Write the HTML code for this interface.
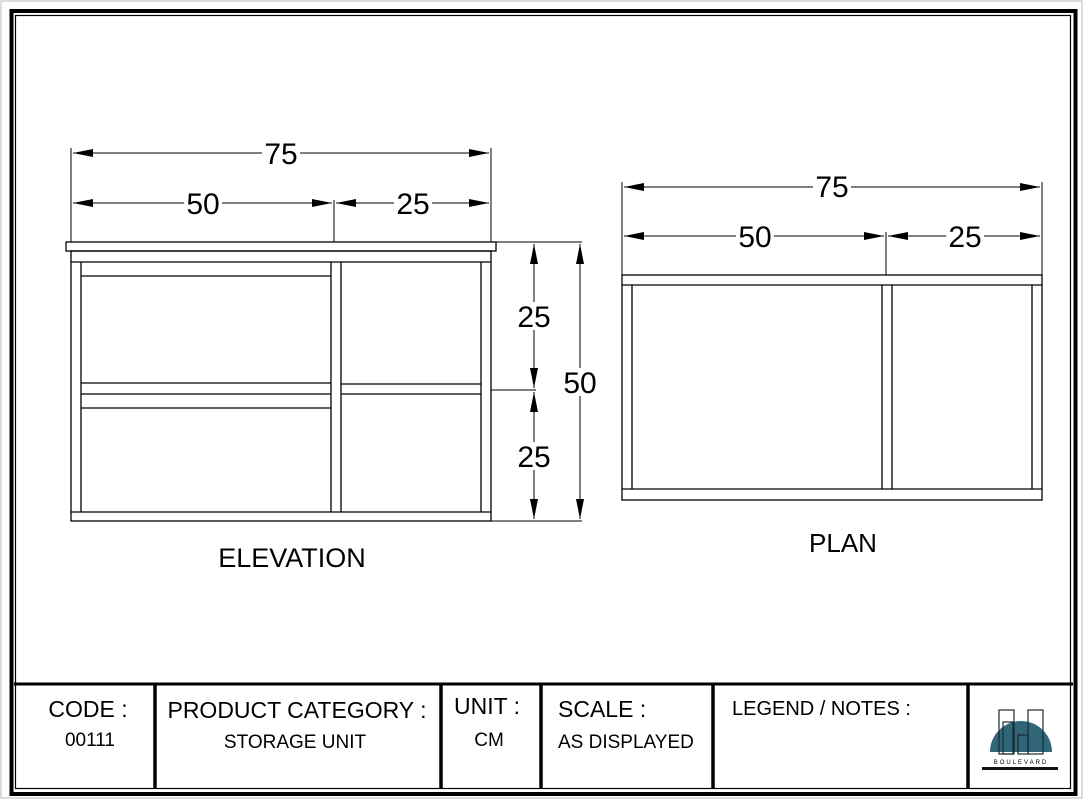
<!DOCTYPE html>
<html><head><meta charset="utf-8"><style>
html,body{margin:0;padding:0;background:#fff;}
svg{display:block;}
text{font-family:"Liberation Sans",Arial,sans-serif;fill:#000;}
</style></head><body>
<svg width="1084" height="800" viewBox="0 0 1084 800" xmlns="http://www.w3.org/2000/svg">
<defs>
<marker id="a" viewBox="0 0 20 8" refX="20" refY="4" markerWidth="20" markerHeight="8" markerUnits="userSpaceOnUse" orient="auto-start-reverse">
<path d="M0,0 L20,4 L0,8 Z" fill="#000"/></marker>
</defs>
<rect width="1084" height="800" fill="#fff"/>
<rect x="1" y="1" width="1081" height="797" fill="none" stroke="#bbb" stroke-width="1"/>
<rect x="11.5" y="11" width="1064" height="783" fill="none" stroke="#000" stroke-width="4"/>
<rect x="15.5" y="15.5" width="1055" height="773" fill="none" stroke="#000" stroke-width="1.2"/>
<line x1="14" y1="684" x2="1073" y2="684" stroke="#000" stroke-width="3"/>
<g stroke="#000" stroke-width="3.5">
<line x1="155" y1="684" x2="155" y2="789"/>
<line x1="441" y1="684" x2="441" y2="789"/>
<line x1="541" y1="684" x2="541" y2="789"/>
<line x1="713" y1="684" x2="713" y2="789"/>
<line x1="968" y1="684" x2="968" y2="789"/>
</g>
<text x="88" y="717" font-size="23" text-anchor="middle">CODE :</text>
<text x="90" y="746" font-size="19" text-anchor="middle">00111</text>
<text x="297" y="718" font-size="23" text-anchor="middle">PRODUCT CATEGORY :</text>
<text x="295" y="748" font-size="19" text-anchor="middle">STORAGE UNIT</text>
<text x="487" y="714" font-size="23" text-anchor="middle">UNIT :</text>
<text x="489" y="746" font-size="19" text-anchor="middle">CM</text>
<text x="558" y="717" font-size="23">SCALE :</text>
<text x="558" y="748" font-size="19">AS DISPLAYED</text>
<text x="732" y="715" font-size="20">LEGEND / NOTES :</text>
<path d="M990,752 A31,31 0 0 1 1052,752 Z" fill="#2f6678"/>
<g fill="none" stroke="#1a2a33" stroke-width="1.2">
<rect x="999" y="710" width="15" height="44"/><rect x="1003" y="722" width="10" height="32"/>
<rect x="1028" y="710" width="15" height="44"/><rect x="1018" y="735" width="10" height="19"/>
</g>
<text x="1021" y="764" font-size="6" text-anchor="middle" letter-spacing="2">BOULEVARD</text>
<rect x="982" y="767" width="76" height="3" fill="#111"/>
<g fill="none" stroke="#000" stroke-width="1.3">
<rect x="66" y="242" width="430" height="9"/>
<rect x="71" y="251" width="420" height="270"/>
<line x1="81" y1="262" x2="81" y2="512"/>
<line x1="481" y1="262" x2="481" y2="512"/>
<line x1="331" y1="262" x2="331" y2="512"/>
<line x1="341" y1="262" x2="341" y2="512"/>
<line x1="71" y1="262" x2="491" y2="262"/>
<line x1="71" y1="512" x2="491" y2="512"/>
<line x1="81" y1="276" x2="331" y2="276"/>
<line x1="81" y1="383" x2="331" y2="383"/>
<line x1="81" y1="394" x2="331" y2="394"/>
<line x1="81" y1="408" x2="331" y2="408"/>
<line x1="341" y1="384" x2="481" y2="384"/>
<line x1="341" y1="394" x2="481" y2="394"/>
</g>
<g stroke="#000" stroke-width="1" fill="none">
<line x1="71" y1="148" x2="71" y2="242"/>
<line x1="491" y1="148" x2="491" y2="242"/>
<line x1="334" y1="200" x2="334" y2="242"/>
<line x1="73" y1="153" x2="489" y2="153" marker-start="url(#a)" marker-end="url(#a)"/>
<line x1="73" y1="203" x2="332" y2="203" marker-start="url(#a)" marker-end="url(#a)"/>
<line x1="336" y1="203" x2="489" y2="203" marker-start="url(#a)" marker-end="url(#a)"/>
<line x1="496" y1="242" x2="582" y2="242"/>
<line x1="491" y1="390" x2="536" y2="390"/>
<line x1="491" y1="521" x2="582" y2="521"/>
<line x1="534" y1="244" x2="534" y2="388" marker-start="url(#a)" marker-end="url(#a)"/>
<line x1="534" y1="392" x2="534" y2="519" marker-start="url(#a)" marker-end="url(#a)"/>
<line x1="580" y1="244" x2="580" y2="519" marker-start="url(#a)" marker-end="url(#a)"/>
</g>
<g font-size="30" text-anchor="middle">
<rect x="262" y="140" width="38" height="26" fill="#fff"/>
<text x="281" y="164">75</text>
<rect x="184" y="190" width="38" height="26" fill="#fff"/>
<text x="203" y="214">50</text>
<rect x="394" y="190" width="38" height="26" fill="#fff"/>
<text x="413" y="214">25</text>
<rect x="516" y="302" width="36" height="28" fill="#fff"/>
<text x="534" y="327">25</text>
<rect x="516" y="442" width="36" height="28" fill="#fff"/>
<text x="534" y="467">25</text>
<rect x="561" y="368" width="38" height="28" fill="#fff"/>
<text x="580" y="393">50</text>
</g>
<text x="292" y="567" font-size="27" text-anchor="middle">ELEVATION</text>
<g fill="none" stroke="#000" stroke-width="1.3">
<rect x="622" y="275" width="420" height="225"/>
<line x1="622" y1="285" x2="1042" y2="285"/>
<line x1="622" y1="489" x2="1042" y2="489"/>
<line x1="632" y1="285" x2="632" y2="489"/>
<line x1="882" y1="285" x2="882" y2="489"/>
<line x1="892" y1="285" x2="892" y2="489"/>
<line x1="1032" y1="285" x2="1032" y2="489"/>
</g>
<g stroke="#000" stroke-width="1" fill="none">
<line x1="622" y1="182" x2="622" y2="275"/>
<line x1="1042" y1="182" x2="1042" y2="275"/>
<line x1="886" y1="232" x2="886" y2="275"/>
<line x1="624" y1="187" x2="1040" y2="187" marker-start="url(#a)" marker-end="url(#a)"/>
<line x1="624" y1="236" x2="884" y2="236" marker-start="url(#a)" marker-end="url(#a)"/>
<line x1="888" y1="236" x2="1040" y2="236" marker-start="url(#a)" marker-end="url(#a)"/>
</g>
<g font-size="30" text-anchor="middle">
<rect x="813" y="174" width="38" height="26" fill="#fff"/>
<text x="832" y="197">75</text>
<rect x="736" y="223" width="38" height="26" fill="#fff"/>
<text x="755" y="247">50</text>
<rect x="946" y="223" width="38" height="26" fill="#fff"/>
<text x="965" y="247">25</text>
</g>
<text x="843" y="552" font-size="26" text-anchor="middle">PLAN</text>
</svg>
</body></html>
